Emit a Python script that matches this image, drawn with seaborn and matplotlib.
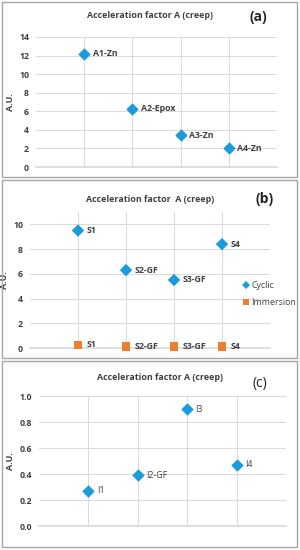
import matplotlib
matplotlib.use("Agg")
import matplotlib.pyplot as plt
import seaborn as sns
import pandas as pd
from matplotlib.patches import Rectangle

# Data
a_labels = ['A1-Zn', 'A2-Epox', 'A3-Zn', 'A4-Zn']
a_values = [12.2, 6.3, 3.4, 2.0]

b_labels = ['S1', 'S2-GF', 'S3-GF', 'S4']
b_cyclic = [9.5, 6.3, 5.5, 8.4]
b_immersion = [0.25, 0.1, 0.1, 0.1]

c_labels = ['I1', 'I2-GF', 'I3', 'I4']
c_values = [0.27, 0.39, 0.90, 0.47]

positions = [1, 2, 3, 4]
title = 'Acceleration factor A (creep)'

blue = '#1A9BDC'
orange = '#ED7D31'
grid = '#D9D9D9'
txt = '#404040'

sns.set_theme(style='white')
plt.rcParams['font.family'] = ['Open Sans', 'DejaVu Sans']

W, H = 300, 550
fig = plt.figure(figsize=(3, 5.5), dpi=100)


def box(x0, y0, x1, y1):
    # panel frame in pixel coords (top-left origin)
    fig.add_artist(Rectangle((x0 / W, 1 - y1 / H), (x1 - x0) / W, (y1 - y0) / H,
                             transform=fig.transFigure, fill=False,
                             edgecolor='#A6A6A6', linewidth=1.0))


def make_ax(x0, x1, ytop, ybot):
    return fig.add_axes([x0 / W, 1 - ybot / H, (x1 - x0) / W, (ybot - ytop) / H])


def style(ax, ymax, step, fmt):
    ax.set_xlim(0, 5)
    ax.set_ylim(0, ymax)
    ax.set_xticks(positions)
    ax.set_xticklabels([])
    n = int(round(ymax / step))
    yt = [round(i * step, 2) for i in range(n + 1) if i * step <= ymax + 1e-9]
    ax.set_yticks(yt)
    ax.set_yticklabels([fmt.format(v) for v in yt], fontsize=6.3, fontweight='bold', color=txt)
    ax.grid(True, color=grid, linewidth=0.7)
    ax.set_axisbelow(True)
    for s in ['top', 'right', 'left']:
        ax.spines[s].set_visible(False)
    ax.spines['bottom'].set_color(grid)
    ax.tick_params(axis='both', length=0, pad=5)
    ax.set_xlabel('')
    ax.set_ylabel('A.U.', fontsize=6.5, fontweight='bold', color=txt, labelpad=3)
    for coll in ax.collections:
        coll.set_zorder(4)


def label_points(ax, xs, ys, labels, bold=True):
    for x, y, t in zip(xs, ys, labels):
        ax.annotate(t, (x, y), xytext=(6, 0), textcoords='offset points',
                    va='center', ha='left', fontsize=6.3,
                    fontweight='bold' if bold else 'normal', color=txt)


# Panel (a)
box(2, 2, 297, 177)
ax = make_ax(36, 277, 37, 167)
sns.scatterplot(x=positions, y=a_values, marker='D', color=blue, s=34,
                edgecolor=blue, ax=ax)
style(ax, 14, 2, '{:.0f}')
label_points(ax, positions, a_values, a_labels)
fig.text(150 / W, 1 - 15 / H, title, ha='center', va='center', fontsize=6.4,
         fontweight='bold', color=txt)
fig.text(258 / W, 1 - 17 / H, '(a)', ha='center', va='center', fontsize=10,
         fontweight='bold', color='#222222')

# Panel (b)
box(2, 180, 297, 358)
ax = make_ax(30, 270, 212, 348)
df_b = pd.DataFrame({
    'x': positions * 2,
    'y': b_cyclic + b_immersion,
    'series': ['Cyclic'] * 4 + ['Immersion'] * 4,
})
sns.scatterplot(data=df_b, x='x', y='y', hue='series', style='series',
                markers={'Cyclic': 'D', 'Immersion': 's'},
                palette={'Cyclic': blue, 'Immersion': orange},
                s=40, linewidth=0, clip_on=False, ax=ax)
style(ax, 11, 2, '{:.0f}')
label_points(ax, positions, b_cyclic, b_labels)
label_points(ax, positions, b_immersion, b_labels)
leg = ax.legend(loc='upper left', bbox_to_anchor=(238 / W, 1 - 278 / H),
                bbox_transform=fig.transFigure, frameon=False, fontsize=6.3,
                handletextpad=0.1, labelspacing=0.9, markerscale=0.7,
                borderaxespad=0, handlelength=1.0)
for t in leg.get_texts():
    t.set_color(txt)
fig.text(150 / W, 1 - 199 / H, 'Acceleration factor  A (creep)', ha='center',
         va='center', fontsize=6.4, fontweight='bold', color=txt)
fig.text(265 / W, 1 - 199 / H, '(b)', ha='center', va='center', fontsize=10,
         fontweight='bold', color='#222222')

# Panel (c)
box(2, 361, 297, 547)
ax = make_ax(39, 286, 396, 526)
sns.scatterplot(x=positions, y=c_values, marker='D', color=blue, s=34,
                edgecolor=blue, ax=ax)
style(ax, 1.0, 0.2, '{:.1f}')
label_points(ax, positions, c_values, c_labels, bold=False)
fig.text(160 / W, 1 - 378 / H, title, ha='center', va='center', fontsize=6.4,
         fontweight='bold', color=txt)
fig.text(260 / W, 1 - 383 / H, '(c)', ha='center', va='center', fontsize=10,
         color='#222222')

fig.savefig('out.png', dpi=100)
